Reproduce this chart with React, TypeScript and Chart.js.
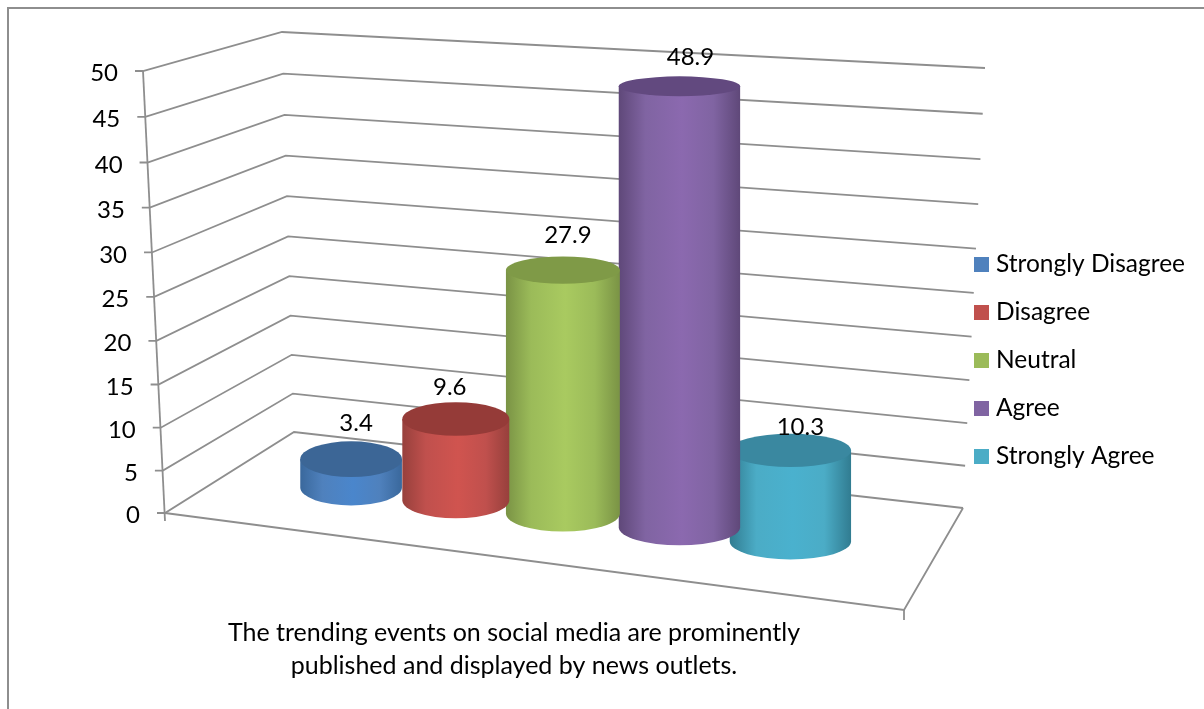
import React, { useEffect, useRef } from "react";
import { Chart, registerables } from "chart.js";

Chart.register(...registerables);

// Survey responses, one series per answer.
const seriesNames = ["Strongly Disagree", "Disagree", "Neutral", "Agree", "Strongly Agree"];
const seriesValues = [3.4, 9.6, 27.9, 48.9, 10.3];
const questionLines = [
  "The trending events on social media are prominently",
  "published and displayed by news outlets.",
];
const axisMin = 0;
const axisMax = 50;
const axisStep = 5;

// Cylinder shading per series.
const legendColors = ["#4f81bd", "#c0504d", "#9bbb59", "#8064a2", "#4bacc6"];
const sideLight = ["#4a86cc", "#d0544f", "#a9ca60", "#8b69af", "#4ab1ce"];
const sideDark = ["#3a689c", "#97403c", "#7a9345", "#5f4879", "#317c91"];
const capColors = ["#3c6696", "#953b38", "#7f9a47", "#62497f", "#3a88a0"];

// Small sideways seating correction of each cylinder on the floor.
const seatDx = [0, 0, -1, 4, 0];

// Nudges of each value label away from its cylinder's rim.
const labelDx = [5, -6, 5, 11, 10];
const labelDy = [-18, -15, -21, -19, -6];

const FONT = "Lato, Carlito, 'Open Sans', sans-serif";
const TEXT_COLOR = "#000000";
const LINE_COLOR = "#8e8e8e";

// Corners of the 3D box: floor and wall tops in canvas space.
const box = {
  frontLeft: [165, 513],
  frontLeftTop: [143, 71],
  backLeft: [294, 432],
  backLeftTop: [282, 32],
  backRight: [963, 508],
  backRightTop: [985, 68],
  frontRight: [904, 610],
};

const mix = (a: number[], b: number[], t: number) => [a[0] + (b[0] - a[0]) * t, a[1] + (b[1] - a[1]) * t];

// Perspective squeeze of the height axis.
const warp = (t: number) => t - 0.044 * t * (1 - t);

const heightRatio = (scale: any, pixel: number) => (scale.bottom - pixel) / (scale.bottom - scale.top);

const wallPoint = (base: number[], top: number[], t: number) => mix(base, top, warp(t));

// Position along the floor's width for a pixel on the category axis.
const floorPosition = (area: any, px: number) => {
  const u = (px - area.left) / area.width - 0.02;
  return u + 0.1 * (u - 0.48) * (u - 0.48) - 0.005;
};

const floorCenter = (u: number) => {
  const front = mix(box.frontLeft, box.frontRight, u);
  const back = mix(box.backLeft, box.backRight, u);
  return mix(front, back, 0.5);
};

const cylinderHeight = (u: number, t: number) => (426 + 40 * u) * warp(t);
const capRadiusY = (value: number) => 18.5 - 0.175 * value;

const strokePath = (ctx: CanvasRenderingContext2D, pts: number[][]) => {
  ctx.beginPath();
  pts.forEach((p, i) => (i ? ctx.lineTo(p[0], p[1]) : ctx.moveTo(p[0], p[1])));
  ctx.stroke();
};

const pagePlugin = {
  id: "pageFrame",
  // The legend sits further right than the slot the layout gives it.
  afterLayout(chart: any) {
    const legend = chart.legend;
    legend.left = 955.75;
    legend.right = 1204;
    legend.top = 228.75;
    legend.bottom = 709;
  },
  beforeDraw(chart: any) {
    const { ctx } = chart;
    ctx.save();
    ctx.strokeStyle = LINE_COLOR;
    ctx.lineWidth = 2;
    strokePath(ctx, [[8, 709], [8, 8], [1204, 8]]);
    ctx.restore();
  },
};

const boxPlugin = {
  id: "perspectiveBox",
  beforeDatasetsDraw(chart: any) {
    const { ctx } = chart;
    const y = chart.scales.y;
    ctx.save();
    ctx.strokeStyle = LINE_COLOR;
    ctx.lineWidth = 1.8;
    ctx.lineJoin = "miter";
    y.ticks.forEach((tick: any) => {
      const t = heightRatio(y, y.getPixelForValue(tick.value));
      const front = wallPoint(box.frontLeft, box.frontLeftTop, t);
      strokePath(ctx, [
        [front[0] - 8, front[1]],
        front,
        wallPoint(box.backLeft, box.backLeftTop, t),
        wallPoint(box.backRight, box.backRightTop, t),
      ]);
    });
    strokePath(ctx, [box.frontLeftTop, [box.frontLeft[0], box.frontLeft[1] + 8]]);
    strokePath(ctx, [box.frontLeft, box.frontRight, box.backRight]);
    strokePath(ctx, [box.frontRight, [box.frontRight[0], box.frontRight[1] + 10]]);

    ctx.fillStyle = TEXT_COLOR;
    ctx.font = `24px ${FONT}`;
    ctx.textAlign = "right";
    ctx.textBaseline = "middle";
    y.ticks.forEach((tick: any) => {
      const t = heightRatio(y, y.getPixelForValue(tick.value));
      const front = wallPoint(box.frontLeft, box.frontLeftTop, t);
      ctx.fillText(String(tick.value), front[0] - 25, front[1] + 2.5);
    });
    ctx.restore();
  },
  // Each bar is drawn as a shaded cylinder standing on the floor.
  beforeDatasetDraw(chart: any, args: any) {
    const i = args.index;
    const bar = args.meta.data[0];
    const { ctx, chartArea } = chart;
    const y = chart.scales.y;
    const t = heightRatio(y, bar.y);
    const value = seriesValues[i];
    const u = floorPosition(chartArea, bar.x);
    const base = floorCenter(u);
    const rx = (bar.width / 2) * (0.895 + 0.28 * u + 0.0012 * value);
    const cx = base[0] + seatDx[i];
    const topY = base[1] - cylinderHeight(u, t);
    const baseRy = 18;

    const side = ctx.createLinearGradient(cx - rx, 0, cx + rx, 0);
    side.addColorStop(0, sideDark[i]);
    side.addColorStop(0.22, legendColors[i]);
    side.addColorStop(0.52, sideLight[i]);
    side.addColorStop(0.78, legendColors[i]);
    side.addColorStop(1, sideDark[i]);

    ctx.save();
    ctx.beginPath();
    ctx.moveTo(cx - rx, topY);
    ctx.lineTo(cx - rx, base[1]);
    ctx.ellipse(cx, base[1], rx, baseRy, 0, Math.PI, 0, true);
    ctx.lineTo(cx + rx, topY);
    ctx.closePath();
    ctx.fillStyle = side;
    ctx.fill();

    ctx.beginPath();
    ctx.ellipse(cx, topY, rx, capRadiusY(value), 0, 0, Math.PI * 2);
    ctx.fillStyle = capColors[i];
    ctx.fill();
    ctx.restore();
    return false;
  },
  afterDatasetsDraw(chart: any) {
    const { ctx, chartArea } = chart;
    const y = chart.scales.y;
    ctx.save();
    ctx.fillStyle = TEXT_COLOR;
    ctx.font = `24px ${FONT}`;
    ctx.textAlign = "center";
    ctx.textBaseline = "middle";
    seriesValues.forEach((value, i) => {
      const bar = chart.getDatasetMeta(i).data[0];
      const t = heightRatio(y, bar.y);
      const u = floorPosition(chartArea, bar.x);
      const base = floorCenter(u);
      const rim = base[1] - cylinderHeight(u, t) - capRadiusY(value);
      ctx.fillText(value.toFixed(1), base[0] + seatDx[i] + labelDx[i], rim + labelDy[i]);
    });
    ctx.restore();
  },
};

export default function App() {
  const canvasRef = useRef<HTMLCanvasElement>(null);

  useEffect(() => {
    const chart = new Chart(canvasRef.current as HTMLCanvasElement, {
      type: "bar",
      data: {
        labels: [""],
        datasets: seriesNames.map((label, i) => ({
          label,
          data: [seriesValues[i]],
          backgroundColor: legendColors[i],
          categoryPercentage: 0.78,
          barPercentage: 1,
        })),
      },
      options: {
        responsive: false,
        animation: false,
        events: [],
        layout: { padding: { left: 162, right: 146, top: 71, bottom: 0 } },
        scales: {
          x: {
            grid: { display: false },
            border: { display: false },
            ticks: { display: false },
            title: {
              display: true,
              text: questionLines,
              color: TEXT_COLOR,
              font: { family: FONT, size: 25, lineHeight: "33px" },
              padding: { top: 103.5, bottom: 26.5 },
            },
          },
          y: {
            min: axisMin,
            max: axisMax,
            grid: { display: false },
            border: { display: false },
            ticks: { display: false, stepSize: axisStep },
          },
        },
        plugins: {
          tooltip: { enabled: false },
          legend: {
            position: "right",
            align: "start",
            maxWidth: 200,
            labels: {
              color: TEXT_COLOR,
              font: { family: FONT, size: 24.5 },
              boxWidth: 4.5,
              boxHeight: 4.5,
              padding: 23.5,
              generateLabels: () =>
                seriesNames.map((text, i) => ({
                  text,
                  datasetIndex: i,
                  fillStyle: legendColors[i],
                  strokeStyle: legendColors[i],
                  lineWidth: 10.5,
                  lineJoin: "miter",
                  fontColor: TEXT_COLOR,
                })),
            },
          },
        },
      },
      plugins: [pagePlugin, boxPlugin],
    } as any);
    return () => chart.destroy();
  }, []);

  return (
    <div style={{ position: "fixed", left: 0, top: 0, width: 1204, height: 709, background: "#ffffff" }}>
      <canvas ref={canvasRef} width={1204} height={709} style={{ display: "block" }} />
    </div>
  );
}
